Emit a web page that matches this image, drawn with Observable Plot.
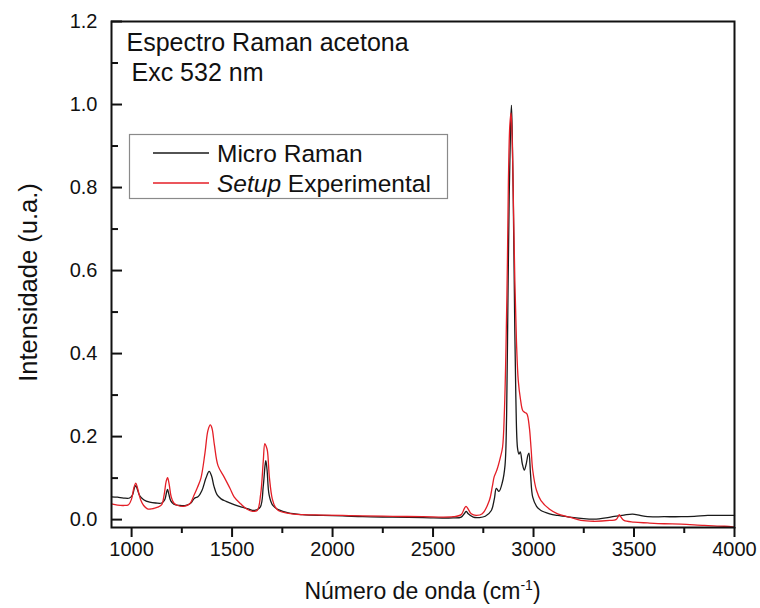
<!DOCTYPE html>
<html>
<head>
<meta charset="utf-8">
<script src="https://cdn.jsdelivr.net/npm/d3@7"></script>
<script src="https://cdn.jsdelivr.net/npm/@observablehq/plot@0.6"></script>
<style>
  body { margin: 0; background: #fff; }
  #chart svg { font-family: "Liberation Sans", Arial, sans-serif; display: block; }
</style>
</head>
<body>
<div id="chart"></div>
<script>
// Raman spectrum of acetone, 532 nm excitation, normalised intensity
const microWavenumber = [900, 930, 960, 990, 1005, 1015, 1021, 1028, 1040, 1060, 1090, 1120, 1150, 1165, 1174, 1179, 1185, 1195, 1210, 1240, 1270, 1295, 1310, 1318, 1330, 1350, 1370, 1386, 1398, 1410, 1425, 1445, 1470, 1510, 1550, 1580, 1610, 1640, 1655, 1664, 1668, 1674, 1684, 1700, 1712, 1730, 1780, 1850, 1950, 2050, 2150, 2300, 2450, 2600, 2640, 2658, 2665, 2675, 2700, 2730, 2760, 2790, 2805, 2815, 2828, 2845, 2858, 2866, 2872, 2879, 2886, 2890, 2894, 2899, 2904, 2912, 2921, 2928, 2934, 2944, 2954, 2964, 2972, 2977, 2985, 2996, 3015, 3037, 3080, 3120, 3180, 3236, 3300, 3360, 3402, 3450, 3493, 3530, 3568, 3650, 3734, 3800, 3867, 3940, 4000];
const microIntensity = [0.055, 0.054, 0.052, 0.052, 0.060, 0.078, 0.082, 0.074, 0.058, 0.048, 0.042, 0.040, 0.040, 0.048, 0.066, 0.073, 0.062, 0.045, 0.037, 0.034, 0.034, 0.040, 0.050, 0.053, 0.055, 0.070, 0.100, 0.116, 0.105, 0.080, 0.060, 0.050, 0.044, 0.036, 0.030, 0.026, 0.022, 0.030, 0.080, 0.130, 0.142, 0.120, 0.060, 0.036, 0.030, 0.024, 0.016, 0.012, 0.010, 0.009, 0.007, 0.006, 0.005, 0.004, 0.006, 0.016, 0.020, 0.014, 0.006, 0.005, 0.008, 0.022, 0.050, 0.075, 0.068, 0.090, 0.130, 0.250, 0.500, 0.780, 0.950, 0.998, 0.930, 0.780, 0.576, 0.295, 0.170, 0.158, 0.163, 0.135, 0.119, 0.135, 0.155, 0.160, 0.110, 0.054, 0.032, 0.022, 0.014, 0.010, 0.006, 0.003, 0.001, 0.004, 0.008, 0.011, 0.013, 0.010, 0.007, 0.007, 0.007, 0.008, 0.010, 0.010, 0.010];

const setupWavenumber = [900, 930, 960, 985, 1000, 1012, 1021, 1030, 1045, 1060, 1079, 1100, 1130, 1150, 1162, 1172, 1179, 1187, 1197, 1210, 1230, 1260, 1290, 1310, 1328, 1345, 1365, 1380, 1392, 1400, 1412, 1430, 1460, 1490, 1510, 1543, 1575, 1602, 1625, 1642, 1655, 1663, 1670, 1676, 1686, 1700, 1715, 1730, 1780, 1850, 1950, 2050, 2150, 2300, 2450, 2600, 2640, 2655, 2664, 2674, 2690, 2714, 2745, 2780, 2795, 2804, 2818, 2835, 2846, 2855, 2863, 2870, 2875, 2882, 2888, 2893, 2900, 2907, 2915, 2924, 2935, 2946, 2957, 2967, 2979, 2988, 2996, 3015, 3037, 3080, 3120, 3180, 3236, 3300, 3380, 3410, 3422, 3427, 3435, 3450, 3500, 3568, 3650, 3734, 3850, 3950, 4000];
const setupIntensity = [0.038, 0.035, 0.034, 0.036, 0.050, 0.078, 0.088, 0.075, 0.048, 0.034, 0.026, 0.026, 0.030, 0.036, 0.060, 0.092, 0.101, 0.085, 0.055, 0.040, 0.034, 0.032, 0.038, 0.058, 0.078, 0.100, 0.160, 0.215, 0.228, 0.220, 0.180, 0.130, 0.103, 0.075, 0.055, 0.038, 0.025, 0.020, 0.022, 0.060, 0.140, 0.183, 0.176, 0.165, 0.100, 0.050, 0.030, 0.022, 0.015, 0.012, 0.011, 0.010, 0.009, 0.008, 0.007, 0.007, 0.012, 0.026, 0.032, 0.026, 0.014, 0.010, 0.014, 0.046, 0.080, 0.103, 0.120, 0.150, 0.175, 0.260, 0.416, 0.620, 0.817, 0.950, 0.980, 0.930, 0.760, 0.576, 0.430, 0.335, 0.290, 0.263, 0.258, 0.255, 0.223, 0.170, 0.119, 0.070, 0.046, 0.025, 0.014, 0.006, -0.002, -0.004, -0.002, 0.000, 0.008, 0.012, 0.006, -0.002, -0.006, -0.008, -0.010, -0.011, -0.014, -0.016, -0.018];

const seriesNames = ["Micro Raman", "Setup Experimental"];
const seriesColors = ["#1a1a1a", "#e41e26"];

const xMajorTicks = [1000, 1500, 2000, 2500, 3000, 3500, 4000];
const xMinorTicks = [1250, 1750, 2250, 2750, 3250, 3750];
const yMajorTicks = [0.0, 0.2, 0.4, 0.6, 0.8, 1.0, 1.2];
const yMinorTicks = [0.1, 0.3, 0.5, 0.7, 0.9, 1.1];

const titleLines = ["Espectro Raman acetona", "Exc 532 nm"];
const xLabel = "Número de onda (cm";
const xLabelSup = "-1";
const yLabel = "Intensidade (u.a.)";

const micro = microWavenumber.map((x, i) => ({x, y: microIntensity[i]}));
const setup = setupWavenumber.map((x, i) => ({x, y: setupIntensity[i]}));

const W = 760, H = 608;
const mL = 111, mR = 26, mT = 21, mB = 81;
const innerW = W - mL - mR;
const ink = "#111";

const plot = Plot.plot({
  width: W,
  height: H,
  marginLeft: mL,
  marginRight: mR,
  marginTop: mT,
  marginBottom: mB,
  style: {fontFamily: '"Liberation Sans", Arial, sans-serif', background: "white", color: ink},
  x: {domain: [900, 4000]},
  y: {domain: [-0.019, 1.2]},
  marks: [
    Plot.line(micro, {x: "x", y: "y", stroke: seriesColors[0], strokeWidth: 1.3, curve: "catmull-rom"}),
    Plot.line(setup, {x: "x", y: "y", stroke: seriesColors[1], strokeWidth: 1.3, curve: "catmull-rom"}),
    // x axis: ticks point outward
    Plot.axisX({ticks: xMajorTicks, tickSize: 10, tickPadding: 4, fontSize: 20, tickFormat: d3.format("d"), label: null, stroke: ink, strokeWidth: 2}),
    Plot.axisX({ticks: xMinorTicks, tickSize: 6, tickFormat: () => "", label: null, stroke: ink, strokeWidth: 2}),
    // y axis labels; its tick marks are drawn inside the frame below
    Plot.axisY({ticks: yMajorTicks, tickSize: 0, tickPadding: 14, fontSize: 20, tickFormat: d3.format(".1f"), label: null}),
    Plot.tickY(yMajorTicks, {y: d => d, insetRight: innerW - 11, stroke: ink, strokeWidth: 2}),
    Plot.tickY(yMinorTicks, {y: d => d, insetRight: innerW - 7, stroke: ink, strokeWidth: 2}),
    Plot.frame({stroke: ink, strokeWidth: 2}),
    Plot.text([yLabel], {frameAnchor: "left", dx: -83, dy: 8, rotate: -90, text: d => d, textAnchor: "middle", fontSize: 25.5, fill: ink}),
    Plot.text([titleLines[0]], {frameAnchor: "top-left", dx: 15, dy: 12, text: d => d, textAnchor: "start", lineAnchor: "top", fontSize: 25, fill: ink}),
    Plot.text([titleLines[1]], {frameAnchor: "top-left", dx: 20, dy: 42, text: d => d, textAnchor: "start", lineAnchor: "top", fontSize: 25, fill: ink})
  ]
});

const svg = d3.select(plot);

// x-axis title with superscript exponent
const xt = svg.append("text")
  .attr("x", mL + innerW / 2)
  .attr("y", 599)
  .attr("text-anchor", "middle")
  .attr("font-size", 23)
  .attr("fill", ink);
xt.append("tspan").text(xLabel);
xt.append("tspan").attr("dy", -9).attr("font-size", 14).text(xLabelSup);
xt.append("tspan").attr("dy", 9).text(")");

// legend box
const lg = svg.append("g");
lg.append("rect")
  .attr("x", 129.5).attr("y", 134.5)
  .attr("width", 318).attr("height", 64)
  .attr("fill", "white").attr("stroke", "#8a8a8a").attr("stroke-width", 1.2);
seriesNames.forEach((name, i) => {
  const yy = 153 + i * 30;
  lg.append("line")
    .attr("x1", 153).attr("x2", 209)
    .attr("y1", yy).attr("y2", yy)
    .attr("stroke", seriesColors[i]).attr("stroke-width", 1.3);
  const t = lg.append("text")
    .attr("x", 217).attr("y", yy + 9)
    .attr("text-anchor", "start")
    .attr("font-size", 24.5).attr("fill", ink);
  if (name.startsWith("Setup")) {
    t.append("tspan").attr("font-style", "italic").text("Setup");
    t.append("tspan").text(name.slice(5));
  } else {
    t.text(name);
  }
});

document.getElementById("chart").append(plot);
</script>
</body>
</html>
